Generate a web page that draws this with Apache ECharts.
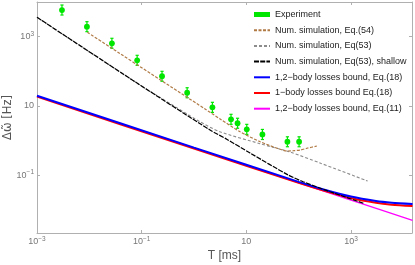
<!DOCTYPE html>
<html><head><meta charset="utf-8">
<script src="https://cdn.jsdelivr.net/npm/echarts@6/dist/echarts.min.js"></script>
<style>html,body{margin:0;padding:0;background:#fff}#c{width:415px;height:265px}</style>
</head><body><div id="c"></div>
<script>
// ---- data (T in ms, values in Hz) ----
const expT  = [0.0030, 0.0090, 0.027, 0.082, 0.245, 0.74, 2.25, 5.1, 6.8, 10.2, 20.3, 61, 102];
const expV  = [5900, 1950, 645, 208, 72, 24, 9.1, 4.1, 3.15, 2.1, 1.5, 0.92, 0.92];
const expLo = [4230, 1400, 462, 149, 51.6, 17.2, 6.5, 2.94, 2.26, 1.5, 1.07, 0.66, 0.66];
const expHi = [8240, 2720, 900, 290, 100, 33.5, 12.7, 5.72, 4.4, 2.93, 2.09, 1.28, 1.28];

const eq54T = [0.00916, 1.63, 3.16, 7.6, 18.4, 44.3, 60, 79.6, 107, 143.6, 223];
const eq54V = [1341, 8.13, 4.18, 1.79, 0.923, 0.557, 0.498, 0.507, 0.53, 0.596, 0.693];

const eq53T = [0.001, 0.0828, 0.208, 1.30, 3.14, 18.2, 68.4, 256, 2080];
const eq53V = [3640, 45, 18.9, 3.49, 1.79, 0.81, 0.466, 0.224, 0.0675];

const shallowT = [0.001, 0.0828, 2.03, 4.22, 11.8, 63, 122, 400, 1800];
const shallowV = [3640, 45, 2.01, 1.09, 0.435, 0.1007, 0.0644, 0.033, 0.0150];

const b12T = [0.001, 1, 100, 300, 1000, 3000, 6000, 15000];
const b12V = [19.7, 0.623, 0.0638, 0.0385, 0.0240, 0.0179, 0.0160, 0.0147];

const b1T = [0.001, 1, 100, 300, 1000, 3000, 6000, 15000];
const b1V = [18.5, 0.585, 0.0597, 0.0358, 0.0219, 0.0159, 0.0140, 0.0127];

const b11T = [0.001, 1, 1000, 15000];
const b11V = [19.0, 0.60, 0.019, 0.0049];

const xTickExp = [-3, -1, 1, 3];
const yTickExp = [-1, 1, 3];

// ---- build ----
const L = Math.log10;
const pairs = (t, v) => t.map((x, i) => [L(x), L(v[i])]);
const expData = expT.map((t, i) => [L(t), L(expV[i]), L(expLo[i]), L(expHi[i])]);

const GREEN = '#00e600';
const AX = '#b0b0b0';
const LBL = '#777';
const FONT = '"Liberation Sans", Arial, sans-serif';

function powLabel(v) {
  const e = Math.round(v);
  if (e === 1) return '{b|10}';
  return '{b|10}{s|' + (e < 0 ? '\u2212' : '') + Math.abs(e) + '}';
}
const rich = {
  b: {fontSize: 9, color: LBL, fontFamily: FONT, lineHeight: 12},
  s: {fontSize: 6.5, color: LBL, fontFamily: FONT, lineHeight: 7, verticalAlign: 'top'}
};

const XMIN = -3, XMAX = 4.166, YMIN = -2.673, YMAX = 4.003;

function lineSeries(name, t, v, color, width, type) {
  return {
    name, type: 'line', data: pairs(t, v), xAxisIndex: 0, yAxisIndex: 0,
    symbol: 'none', showSymbol: false, smooth: 0.25,
    lineStyle: {color, width, type: type || 'solid'},
    itemStyle: {color}, silent: true
  };
}
const noSym = {opacity: 0};
const axLine = {show: true, onZero: false, lineStyle: {color: AX, width: 1}};

const chart = echarts.init(document.getElementById('c'), null, {renderer: 'canvas'});
chart.setOption({
  animation: false,
  backgroundColor: '#fff',
  textStyle: {fontFamily: FONT},
  grid: {left: 37, right: 3, top: 2, bottom: 32, outerBoundsMode: 'none', containLabel: false},
  legend: {
    orient: 'vertical', left: 253, top: 10, padding: 0,
    itemWidth: 16, itemHeight: 5, itemGap: 6.7,
    textStyle: {fontSize: 9, color: '#222', fontFamily: FONT},
    selectedMode: false,
    data: [
      {name: 'Experiment', icon: 'rect', itemStyle: {color: GREEN, opacity: 1}},
      {name: 'Num. simulation, Eq.(54)', itemStyle: noSym},
      {name: 'Num. simulation, Eq(53)', itemStyle: noSym},
      {name: 'Num. simulation, Eq(53), shallow', itemStyle: noSym},
      {name: '1,2\u2212body losses bound, Eq.(18)', itemStyle: noSym},
      {name: '1\u2212body losses bound Eq.(18)', itemStyle: noSym},
      {name: '1,2\u2212body losses bound, Eq.(11)', itemStyle: noSym}
    ]
  },
  xAxis: [{
    type: 'value', min: XMIN, max: XMAX, position: 'bottom',
    name: 'T [ms]', nameLocation: 'middle', nameGap: 17, nameMoveOverlap: false,
    nameTextStyle: {fontSize: 12, color: '#555', fontFamily: FONT},
    axisLine: axLine,
    axisTick: {show: true, inside: true, length: 3, lineStyle: {color: AX}, customValues: xTickExp},
    axisLabel: {show: true, margin: 3, customValues: xTickExp, formatter: powLabel, rich},
    splitLine: {show: false}
  }, {
    type: 'value', min: XMIN, max: XMAX, position: 'top',
    axisLine: axLine,
    axisTick: {show: true, inside: true, length: 3, lineStyle: {color: AX}, customValues: xTickExp},
    axisLabel: {show: false}, splitLine: {show: false}
  }],
  yAxis: [{
    type: 'value', min: YMIN, max: YMAX, position: 'left',
    name: '\u0394\u03c9\u0303 [Hz]', nameLocation: 'middle', nameGap: 23, nameRotate: 90, nameMoveOverlap: false,
    nameTextStyle: {fontSize: 11.5, color: '#555', fontFamily: '"DejaVu Sans", sans-serif'},
    axisLine: axLine,
    axisTick: {show: true, inside: true, length: 3, lineStyle: {color: AX}, customValues: yTickExp},
    axisLabel: {show: true, margin: 3, customValues: yTickExp, formatter: powLabel, rich},
    splitLine: {show: false}
  }, {
    type: 'value', min: YMIN, max: YMAX, position: 'right',
    axisLine: axLine,
    axisTick: {show: true, inside: true, length: 3, lineStyle: {color: AX}, customValues: yTickExp},
    axisLabel: {show: false}, splitLine: {show: false}
  }],
  series: [
    lineSeries('Num. simulation, Eq(53)', eq53T, eq53V, '#8c8c8c', 1.1, [3, 2]),
    lineSeries('Num. simulation, Eq.(54)', eq54T, eq54V, '#b07a45', 1.2, [3, 1.5]),
    lineSeries('1,2\u2212body losses bound, Eq.(11)', b11T, b11V, '#ff00ff', 1.2),
    lineSeries('1\u2212body losses bound Eq.(18)', b1T, b1V, '#ff0000', 2),
    lineSeries('1,2\u2212body losses bound, Eq.(18)', b12T, b12V, '#0000ff', 2),
    lineSeries('Num. simulation, Eq(53), shallow', shallowT, shallowV, '#000000', 1.2, [5, 1.2]),
    {
      name: 'Experiment', type: 'custom', data: expData, xAxisIndex: 0, yAxisIndex: 0,
      encode: {x: 0, y: 1}, itemStyle: {color: GREEN}, silent: true,
      renderItem: function (params, api) {
        const p = api.coord([api.value(0), api.value(1)]);
        const lo = api.coord([api.value(0), api.value(2)]);
        const hi = api.coord([api.value(0), api.value(3)]);
        const st = {stroke: GREEN, lineWidth: 1.2};
        return {type: 'group', children: [
          {type: 'line', shape: {x1: p[0], y1: lo[1], x2: p[0], y2: hi[1]}, style: st},
          {type: 'line', shape: {x1: p[0] - 1.6, y1: lo[1], x2: p[0] + 1.6, y2: lo[1]}, style: st},
          {type: 'line', shape: {x1: p[0] - 1.6, y1: hi[1], x2: p[0] + 1.6, y2: hi[1]}, style: st},
          {type: 'circle', shape: {cx: p[0], cy: p[1], r: 2.9}, style: {fill: GREEN}}
        ]};
      }
    }
  ]
});
</script>
</body></html>
